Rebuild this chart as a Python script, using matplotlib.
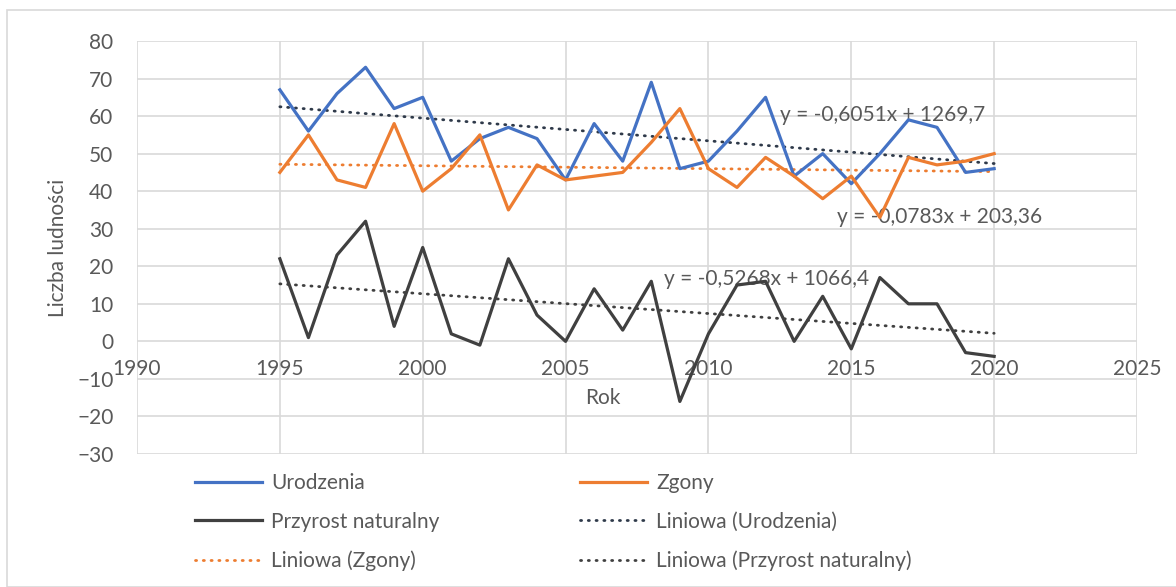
import numpy as np
import matplotlib
matplotlib.use("Agg")
import matplotlib.pyplot as plt
from matplotlib.patches import Rectangle

years = list(range(1995, 2021))
urodzenia = [67, 56, 66, 73, 62, 65, 48, 54, 57, 54, 43, 58, 48, 69, 46, 48, 56, 65, 44, 50, 42, 50, 59, 57, 45, 46]
zgony = [45, 55, 43, 41, 58, 40, 46, 55, 35, 47, 43, 44, 45, 53, 62, 46, 41, 49, 44, 38, 44, 33, 49, 47, 48, 50]
przyrost = [22, 1, 23, 32, 4, 25, 2, -1, 22, 7, 0, 14, 3, 16, -16, 2, 15, 16, 0, 12, -2, 17, 10, 10, -3, -4]
eq_labels = ["y = -0,6051x + 1269,7", "y = -0,0783x + 203,36", "y = -0,5268x + 1066,4"]
x_ticks = list(range(1990, 2026, 5))
y_ticks = list(range(-30, 81, 10))

plt.rcParams['font.family'] = ['Lato', 'DejaVu Sans']
TXT = '#595959'
BLUE = '#4472C4'
ORANGE = '#ED7D31'
DARK = '#404040'
FS = 15

W, H = 1176, 587
fig = plt.figure(figsize=(W / 100, H / 100), dpi=100)
fig.patches.append(Rectangle((7 / W, 0), 1.2, (H - 10) / H, transform=fig.transFigure,
                             fill=False, edgecolor='#d9d9d9', lw=1.2))

L, R, T, B = 137, 1137, 41, 454
ax = fig.add_axes([L / W, (H - B) / H, (R - L) / W, (B - T) / H])

x = np.array(years)
def trend(y):
    p = np.polyfit(x, np.array(y, float), 1)
    return np.polyval(p, x)

lu, = ax.plot(years, urodzenia, color=BLUE, lw=2.3, solid_joinstyle='round', zorder=4)
lz, = ax.plot(years, zgony, color=ORANGE, lw=2.3, solid_joinstyle='round', zorder=4)
lp, = ax.plot(years, przyrost, color=DARK, lw=2.3, solid_joinstyle='round', zorder=4)
dots = dict(lw=2.0, linestyle=(0, (0.4, 2.4)), dash_capstyle='round', zorder=3)
tu, = ax.plot(years, trend(urodzenia), color='#2f3a4a', **dots)
tz, = ax.plot(years, trend(zgony), color=ORANGE, **dots)
tp, = ax.plot(years, trend(przyrost), color=DARK, **dots)

ax.set_xlim(1990, 2025)
ax.set_ylim(-30, 80)
ax.set_xticks(x_ticks)
ax.set_yticks(y_ticks)
ax.grid(True, color='#d9d9d9', lw=1.2)
ax.set_axisbelow(True)
for s in ['top', 'right', 'left']:
    ax.spines[s].set_visible(False)
ax.spines['bottom'].set_position(('data', 0))
ax.spines['bottom'].set_visible(False)
ax.tick_params(axis='both', length=0, labelsize=FS, labelcolor=TXT)
ax.tick_params(axis='x', pad=13)
ax.tick_params(axis='y', pad=17)

ax.set_ylabel('Liczba ludności', fontsize=FS, color=TXT)
ax.yaxis.set_label_coords(-0.069, 0.5)
ax.set_xlabel('Rok', fontsize=FS, color=TXT)
ax.xaxis.set_label_coords(0.466, 0.16)

ax.text(2012.5, 60.2, eq_labels[0], fontsize=FS, color=TXT, va='center', ha='left')
ax.text(2014.5, 33.0, eq_labels[1], fontsize=FS, color=TXT, va='center', ha='left')
ax.text(2008.45, 16.5, eq_labels[2], fontsize=FS, color=TXT, va='center', ha='left')

leg_kw = dict(frameon=False, fontsize=FS, labelcolor=TXT, handlelength=3.2,
              handletextpad=0.45, labelspacing=0.9, borderpad=0, borderaxespad=0)
leg1 = fig.legend([lu, lp, tz], ['Urodzenia', 'Przyrost naturalny', 'Liniowa (Zgony)'],
                  loc='upper left', bbox_to_anchor=(195 / W, 1 - 473 / H), **leg_kw)
leg2 = fig.legend([lz, tu, tp], ['Zgony', 'Liniowa (Urodzenia)', 'Liniowa (Przyrost naturalny)'],
                  loc='upper left', bbox_to_anchor=(580 / W, 1 - 473 / H), **leg_kw)

fig.savefig('out.png', dpi=100)
